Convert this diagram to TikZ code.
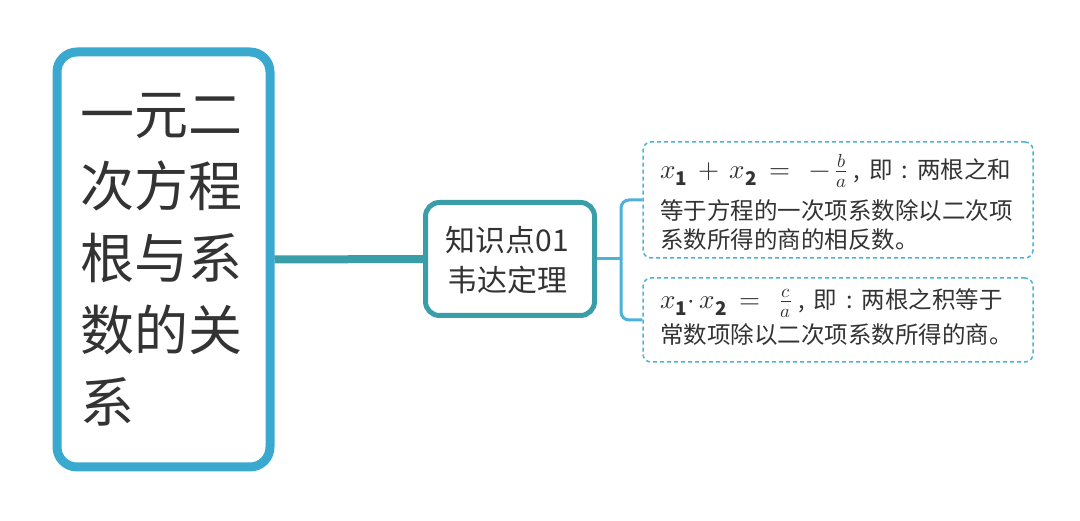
\documentclass[tikz,border=0pt]{standalone}
\usepackage{fontspec}
\usepackage{unicode-math}
\setmainfont{Noto Sans CJK SC}
\setmathfont{Latin Modern Math}
\definecolor{mainblue}{HTML}{3AA9D0}
\definecolor{teal}{HTML}{3A9EA9}
\definecolor{lightblue}{HTML}{4DB2D8}
\definecolor{txt}{HTML}{333333}
\newcommand{\bigmath}[1]{{\fontsize{27}{29}\selectfont$#1$}}
\newcommand{\cjkcolon}{\hspace{9pt}:\hspace{9pt}}
\tikzset{
  mainbox/.style={draw=mainblue, line width=9pt, rounded corners=20pt, fill=white, minimum width=213pt, minimum height=415pt, text=txt, inner sep=0pt},
  knowbox/.style={draw=teal, line width=5pt, rounded corners=14pt, fill=white, minimum width=169pt, minimum height=113pt, text=txt, inner sep=0pt},
  leafbox/.style={draw=lightblue, line width=1.5pt, dash pattern=on 4pt off 3pt, rounded corners=8pt, fill=white, minimum width=390pt, text=txt, inner sep=0pt},
  leaftext/.style={text=txt, align=left, anchor=base west, inner sep=0pt, font=\fontsize{23.5}{29}\selectfont},
  mainconn/.style={draw=teal, line width=8pt},
  leafconn/.style={draw=lightblue, line width=3pt}
}
\begin{document}
\begin{tikzpicture}[x=1pt,y=-1pt]
\useasboundingbox (0,0) rectangle (1080,521);
\node[mainbox] (main) at (163.5,259.5) {};
\node[text=txt, align=left, anchor=west, font=\fontsize{54}{72}\selectfont] (maintext) at (77,259.5) {一元二\\次方程\\根与系\\数的关\\系};
\node[knowbox] (know) at (510,259) {};
\node[text=txt, align=center, font=\fontsize{30}{40}\selectfont] (knowtext) at (507,260) {知识点01\\韦达定理};
\node[leafbox, minimum height=116pt] (b1) at (838,200) {};
\node[leafbox, minimum height=84pt] (b2) at (838,320) {};
\node[leaftext] (t1) at (660,249) {\bigmath{x_{\mathbf{1}} \,+\, x_{\mathbf{2}} \,=\;\, -\,\frac{b}{a}}\hspace{6pt},\hspace{9pt}即\cjkcolon 两根之和\\[11pt]等于方程的一次项系数除以二次项\\系数所得的商的相反数。};
\node[leaftext] (t2) at (660,344) {\bigmath{x_{\mathbf{1}}{\cdot}\, x_{\mathbf{2}} \,=\;\, \frac{c}{a}}\hspace{6pt},\hspace{9pt}即\cjkcolon 两根之积等于\\[5pt]常数项除以二次项系数所得的商。};
\coordinate (fork) at (621,259);
\draw[mainconn] (main.east) -- (know.west);
\draw[leafconn] (know.east) -- (fork);
\draw[leafconn, rounded corners=8pt] (fork) |- (b1.west);
\draw[leafconn, rounded corners=8pt] (fork) |- (b2.west);
\end{tikzpicture}
\end{document}
